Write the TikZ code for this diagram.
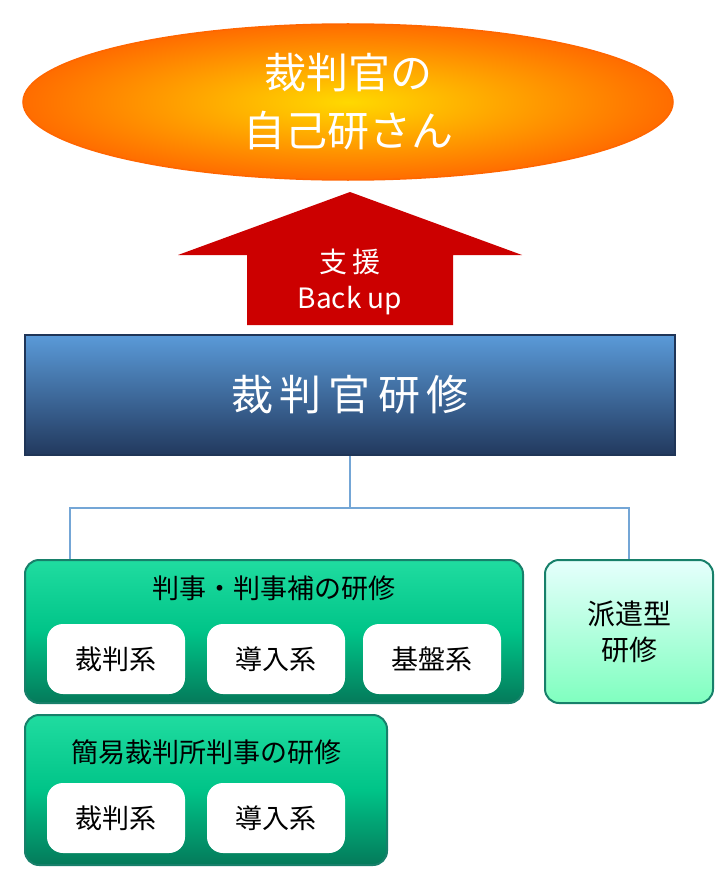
\documentclass[tikz,border=0pt]{standalone}
\usepackage{fontspec}
\setmainfont{Noto Sans CJK JP}
\usetikzlibrary{shapes.geometric}
\definecolor{linkblue}{HTML}{74A6D6}
\definecolor{navy}{HTML}{1F3557}
\definecolor{teal}{HTML}{17806A}
\definecolor{greentop}{HTML}{20DCA0}
\definecolor{greenmid}{HTML}{00C488}
\definecolor{greenbot}{HTML}{047A5A}
\definecolor{bluetop}{HTML}{5A9AD8}
\definecolor{bluebot}{HTML}{22395E}
\begin{document}
\begin{tikzpicture}[x=1pt,y=-1pt,
  groupbox/.style={rectangle,rounded corners=14pt,draw=teal,line width=2pt,
    top color=greentop,bottom color=greenbot,middle color=greenmid},
  pill/.style={rectangle,rounded corners=16pt,fill=white,minimum width=138pt,minimum height=70pt,
    font=\fontsize{27}{30}\selectfont},
  title/.style={font=\fontsize{27}{30}\selectfont},
  link/.style={draw=linkblue,line width=2.5pt}
  ]
\useasboundingbox (0,0) rectangle (720,880);
% goal
\node[ellipse,draw=orange!80!red,line width=1.5pt,inner color=yellow!70!orange,outer color=orange!85!red,
  minimum width=650pt,minimum height=156pt,text=white,align=center,
  font=\fontsize{42}{58}\selectfont] (goal) at (348,102) {裁判官の\\自己研さん};
% arrow
\fill[red!80!black] (247,325) -- (247,255) -- (178,255) -- (350,192) -- (522,255) -- (453,255) -- (453,325) -- cycle;
\node[text=white,align=center,font=\fontsize{28}{36}\selectfont] (backup) at (350,282) {支\,援\\Back\ up};
% main
\node[rectangle,draw=navy,line width=2pt,top color=bluetop,bottom color=bluebot,
  minimum width=650pt,minimum height=120pt,text=white,font=\fontsize{42}{50}\selectfont] (main) at (350,395)
  {裁\,判\,官\,研\,修};
% groups
\node[groupbox,minimum width=498pt,minimum height=143pt] (judge) at (274,631.5) {};
\node[title] (judget) at (274,588) {判事・判事補の研修};
\node[pill] (j1) at (116,659) {裁判系};
\node[pill] (j2) at (276,659) {導入系};
\node[pill] (j3) at (432,659) {基盤系};
\node[groupbox,minimum width=362pt,minimum height=150pt] (summary) at (206,790) {};
\node[title] (summaryt) at (206,752) {簡易裁判所判事の研修};
\node[pill] (s1) at (116,818) {裁判系};
\node[pill] (s2) at (276,818) {導入系};
\node[rectangle,rounded corners=14pt,draw=teal,line width=2pt,top color=green!10!cyan!10!white,
  bottom color=green!50!cyan!50!white,minimum width=168pt,minimum height=143pt,align=center,
  font=\fontsize{28}{36}\selectfont] (dispatch) at (629,631.5) {派遣型\\研修};
% links
\coordinate (fork) at (350,508);
\draw[link] (main.south) -- (fork);
\draw[link] (judge.north west -| 70,0) |- (fork) -| (dispatch.north);
\end{tikzpicture}
\end{document}
